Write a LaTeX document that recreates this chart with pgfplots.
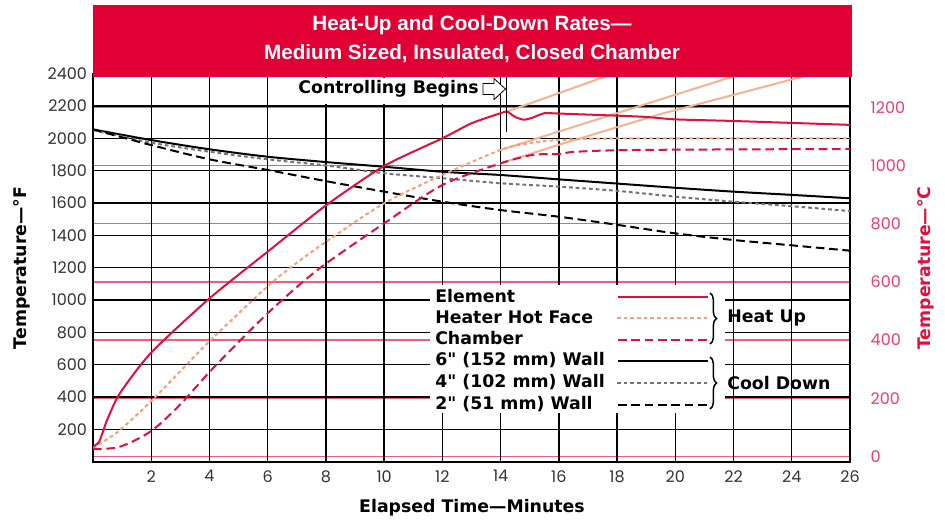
\documentclass[border=0pt]{standalone}
\usepackage{pgfplots}
\pgfplotsset{compat=1.18}
\usepackage{fontspec}
\setmainfont{Liberation Sans}
\newfontfamily\lblfont{DejaVu Sans}
\newfontfamily\tickfont{Poppins}
\usetikzlibrary{decorations.pathreplacing}

\definecolor{titlered}{HTML}{E00034}
\definecolor{elemred}{HTML}{E0103C}
\definecolor{hotface}{HTML}{F4A07C}
\definecolor{ramp}{HTML}{F5B190}
\definecolor{gridred}{HTML}{E8607A}
\definecolor{tickred}{HTML}{E84068}
\definecolor{tickgray}{HTML}{333333}

\tikzset{
  elem/.style={elemred, line width=1.5pt},
  hot/.style={hotface, line width=1.5pt, dash pattern=on 2.8pt off 2.2pt},
  chamb/.style={elemred, line width=1.5pt, dash pattern=on 6.5pt off 3.5pt},
  wsix/.style={black, line width=1.5pt},
  wfour/.style={black!55, line width=1.5pt, dash pattern=on 2.8pt off 2.2pt},
  wtwo/.style={black, line width=1.5pt, dash pattern=on 6.5pt off 3.5pt},
  lbl/.style={font=\lblfont\bfseries\fontsize{13}{15}\selectfont},
}

\begin{document}
\begin{tikzpicture}
\begin{scope}[x=0.75pt,y=-0.75pt]
\path[use as bounding box] (0,0) rectangle (945,521);
\end{scope}

% Celsius scale (red grid, right labels)
\begin{axis}[
  at={(69.75pt,-346.275pt)}, anchor=south west,
  scale only axis, width=567.75pt, height=291.075pt,
  xmin=0, xmax=26, ymin=-17.7778, ymax=1315.5556,
  axis x line=none, axis y line*=right,
  y axis line style={draw=none},
  ytick={0,200,...,1200},
  ymajorgrids, grid style={gridred, line width=1.1pt},
  major tick length=0pt,
  /pgf/number format/assume math mode=true,
  /pgf/number format/1000 sep={},
  yticklabel style={font=\tickfont\fontsize{12}{14}\selectfont, text=tickred, anchor=west, xshift=12pt},
]
\addplot[draw=none] coordinates {(0,0) (26,1200)};
\end{axis}

% Fahrenheit scale with the data
\begin{axis}[
  at={(69.75pt,-346.275pt)}, anchor=south west,
  scale only axis, width=567.75pt, height=291.075pt,
  xmin=0, xmax=26, ymin=0, ymax=2400,
  xtick={2,4,...,26}, ytick={200,400,...,2400},
  grid=major, grid style={black, line width=1pt},
  axis line style={black, line width=1.3pt},
  major tick length=0pt,
  /pgf/number format/assume math mode=true,
  /pgf/number format/1000 sep={},
  ticklabel style={font=\tickfont\fontsize{12}{14}\selectfont, text=tickgray},
  xticklabel style={yshift=-3pt},
  yticklabel style={xshift=-1pt},
]
% extrapolated ramps
\addplot[ramp, line width=1.5pt] coordinates {(14.22,2165) (18.5,2440)};
\addplot[ramp, line width=1.5pt] coordinates {(14.0,1928) (23.0,2440)};
\addplot[ramp, line width=1.5pt] coordinates {(14.0,1845) (16,1960) (19.5,2150) (25.6,2440)};

% cool down
\addplot[wsix, smooth] coordinates {
  (0,2055) (2,1989) (4,1932) (6,1886) (8,1853) (10,1824) (12,1793) (14,1773)
  (16,1746) (18,1720) (20,1694) (22,1670) (24,1650) (26,1629)};
\addplot[wfour, smooth] coordinates {
  (0,2051) (2,1973) (4,1917) (6,1870) (8,1832) (10,1784) (12,1753) (14,1722)
  (16,1701) (18,1675) (20,1639) (22,1608) (24,1580) (26,1550)};
\addplot[wtwo, smooth] coordinates {
  (0,2055) (2,1958) (4,1870) (6,1804) (8,1735) (10,1670) (12,1608) (14,1556)
  (16,1515) (18,1465) (20,1412) (22,1371) (24,1338) (26,1305)};

% heat up
\addplot[hot, smooth] coordinates {
  (0,83) (0.4,130) (0.93,196) (2,375) (3,560) (4,745) (6,1085) (7,1230) (8,1360)
  (10,1598) (12,1773) (14,1928) (15,1970) (16,1989) (18,1999) (26,2000)};
\addplot[chamb, smooth] coordinates {
  (0,77) (0.93,93) (2,190) (3,355) (4,555) (5,740) (6,918) (7,1080) (8,1225)
  (10,1474) (12,1711) (14,1845) (15.1,1897) (16,1903) (16.6,1917) (18.8,1928) (26,1934)};
\addplot[elem, smooth, tension=0.4] coordinates {
  (0,93) (0.2,120) (0.35,190) (0.5,265) (0.93,425) (2,675) (4,1010) (6,1299)
  (8,1585) (10,1829) (12,2000) (13,2093) (14,2155) (14.22,2165) (14.5,2132)
  (14.8,2115) (15.1,2128) (15.5,2155) (16,2153) (18.8,2134) (20,2117) (22,2107) (26,2083)};
\end{axis}

\begin{scope}[x=0.75pt,y=-0.75pt]
% title band
\fill[titlered] (93,5) rectangle (852,76.7);
\node[white, font=\bfseries\fontsize{15.5}{18}\selectfont] at (472,25) {Heat-Up and Cool-Down Rates—};
\node[white, font=\bfseries\fontsize{15.5}{18}\selectfont] at (472,54) {Medium Sized, Insulated, Closed Chamber};

% controlling begins
\fill[white] (285,77.5) rectangle (497,103.5);
\node[lbl, anchor=east, inner sep=0pt] at (479,89) {Controlling Begins};
\draw[black, line width=0.6pt, fill=white] (483,83.5) -- (494,83.5) -- (494,78.5) -- (505.5,89) -- (494,99.5) -- (494,94.5) -- (483,94.5) -- cycle;
\draw[black, line width=0.8pt] (506.7,77) -- (506.7,132);

% legend
\fill[white] (430,285) rectangle (725,413);
\node[lbl, anchor=west, inner sep=0pt] at (435,296) {Element};
\node[lbl, anchor=west, inner sep=0pt] at (435,317) {Heater Hot Face};
\node[lbl, anchor=west, inner sep=0pt] at (435,338) {Chamber};
\node[lbl, anchor=west, inner sep=0pt] at (435,360) {6" (152 mm) Wall};
\node[lbl, anchor=west, inner sep=0pt] at (435,382) {4" (102 mm) Wall};
\node[lbl, anchor=west, inner sep=0pt] at (435,404) {2" (51 mm) Wall};
\draw[elem] (618,297) -- (708,297);
\draw[hot] (617,318) -- (708,318);
\draw[chamb] (618,340) -- (708,340);
\draw[wsix] (618,361) -- (708,361);
\draw[wfour] (617,383) -- (708,383);
\draw[wtwo] (618,405) -- (708,405);
\draw[black, line width=1.1pt, decorate, decoration={brace, amplitude=5pt}] (710,293) -- (710,344);
\draw[black, line width=1.1pt, decorate, decoration={brace, amplitude=5pt}] (710,357) -- (710,409);
\node[lbl, anchor=west, inner sep=0pt] at (727,318) {Heat Up};
\node[lbl, anchor=west, inner sep=0pt] at (727,383) {Cool Down};

% axis titles
\node[lbl, rotate=90] at (22,268) {Temperature—°F};
\node[lbl, rotate=90, text=elemred] at (926,268) {Temperature—°C};
\node[lbl] at (472,508) {Elapsed Time—Minutes};
\end{scope}
\end{tikzpicture}
\end{document}
